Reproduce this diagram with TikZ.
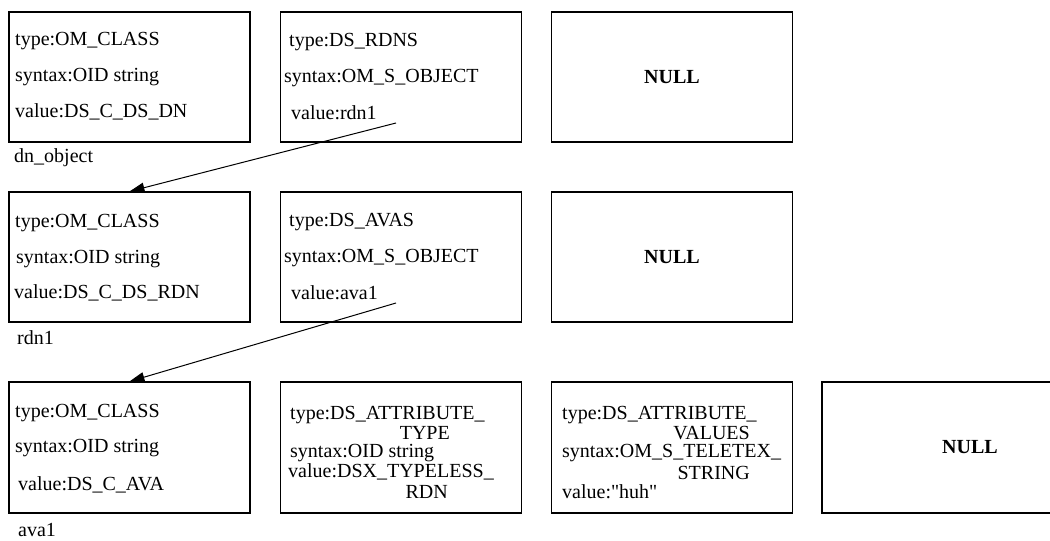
\documentclass[tikz,border=0pt]{standalone}
\usepackage{fontspec}
\setmainfont{Liberation Serif}
\usetikzlibrary{arrows.meta}
\begin{document}
\begin{tikzpicture}[x=1pt,y=-1pt,
  attrbox/.style={draw,line width=1.1pt,rectangle,inner sep=0pt,minimum width=241pt,minimum height=130pt},
  txt/.style={inner sep=0pt,anchor=west,font=\fontsize{20}{20}\selectfont},
  txtr/.style={txt,anchor=east},
  nulltxt/.style={inner sep=0pt,font=\fontsize{20}{20}\selectfont\bfseries},
  ptr/.style={line width=1pt,-{Triangle[length=15pt,width=10pt]}}]
\useasboundingbox (0,0) rectangle (1050,541);
\clip (0,0) rectangle (1050,541);

% row 1: dn_object
\node[attrbox] (r1a) at (129.5,77) {};
\node[attrbox] (r1b) at (401,77) {};
\node[attrbox] (r1c) at (672,77) {};
\node[txt] (r1a1) at (15,41) {type:OM\_CLASS};
\node[txt] (r1a2) at (15,77) {syntax:OID string};
\node[txt] (r1a3) at (15,112) {value:DS\_C\_DS\_DN};
\node[txt] (r1b1) at (289,42) {type:DS\_RDNS};
\node[txt] (r1b2) at (284,78) {syntax:OM\_S\_OBJECT};
\node[txt] (r1b3) at (291,113) {value:rdn1};
\node[nulltxt] (r1c1) at (672,77) {NULL};
\node[txt] (l1) at (14,158) {dn\_object};

% row 2: rdn1
\node[attrbox] (r2a) at (129.5,257) {};
\node[attrbox] (r2b) at (401,257) {};
\node[attrbox] (r2c) at (672,257) {};
\node[txt] (r2a1) at (15,223) {type:OM\_CLASS};
\node[txt] (r2a2) at (16,259) {syntax:OID string};
\node[txt] (r2a3) at (14,293) {value:DS\_C\_DS\_RDN};
\node[txt] (r2b1) at (289,222) {type:DS\_AVAS};
\node[txt] (r2b2) at (284,258) {syntax:OM\_S\_OBJECT};
\node[txt] (r2b3) at (291,293) {value:ava1};
\node[nulltxt] (r2c1) at (672,257) {NULL};
\node[txt] (l2) at (17,338) {rdn1};

% row 3: ava1
\node[attrbox,minimum height=131pt] (r3a) at (129.5,447.5) {};
\node[attrbox,minimum height=131pt] (r3b) at (401,447.5) {};
\node[attrbox,minimum height=131pt] (r3c) at (672,447.5) {};
\node[attrbox,minimum height=131pt,minimum width=296pt] (r3d) at (970,447.5) {};
\node[txt] (r3a1) at (15,413) {type:OM\_CLASS};
\node[txt] (r3a2) at (15,448) {syntax:OID string};
\node[txt] (r3a3) at (18,485) {value:DS\_C\_AVA};
\node[txt] (r3b1) at (290,415) {type:DS\_ATTRIBUTE\_};
\node[txtr] (r3b2) at (450,433) {TYPE};
\node[txt] (r3b3) at (290,453) {syntax:OID string};
\node[txt] (r3b4) at (288,472) {value:DSX\_TYPELESS\_};
\node[txtr] (r3b5) at (448,492) {RDN};
\node[txt] (r3c1) at (562,415) {type:DS\_ATTRIBUTE\_};
\node[txtr] (r3c2) at (750,433) {VALUES};
\node[txt] (r3c3) at (562,453) {syntax:OM\_S\_TELETEX\_};
\node[txtr] (r3c4) at (750,473) {STRING};
\node[txt] (r3c5) at (562,492) {value:\textquotedbl huh\textquotedbl};
\node[nulltxt] (r3d1) at (970,447.5) {NULL};
\node[txt] (l3) at (18,530) {ava1};

% object pointers
\coordinate (p1) at (396,123);
\coordinate (p2) at (396,303);
\draw[ptr] (p1) -- (r2a.north);
\draw[ptr] (p2) -- (r3a.north);
\end{tikzpicture}
\end{document}
